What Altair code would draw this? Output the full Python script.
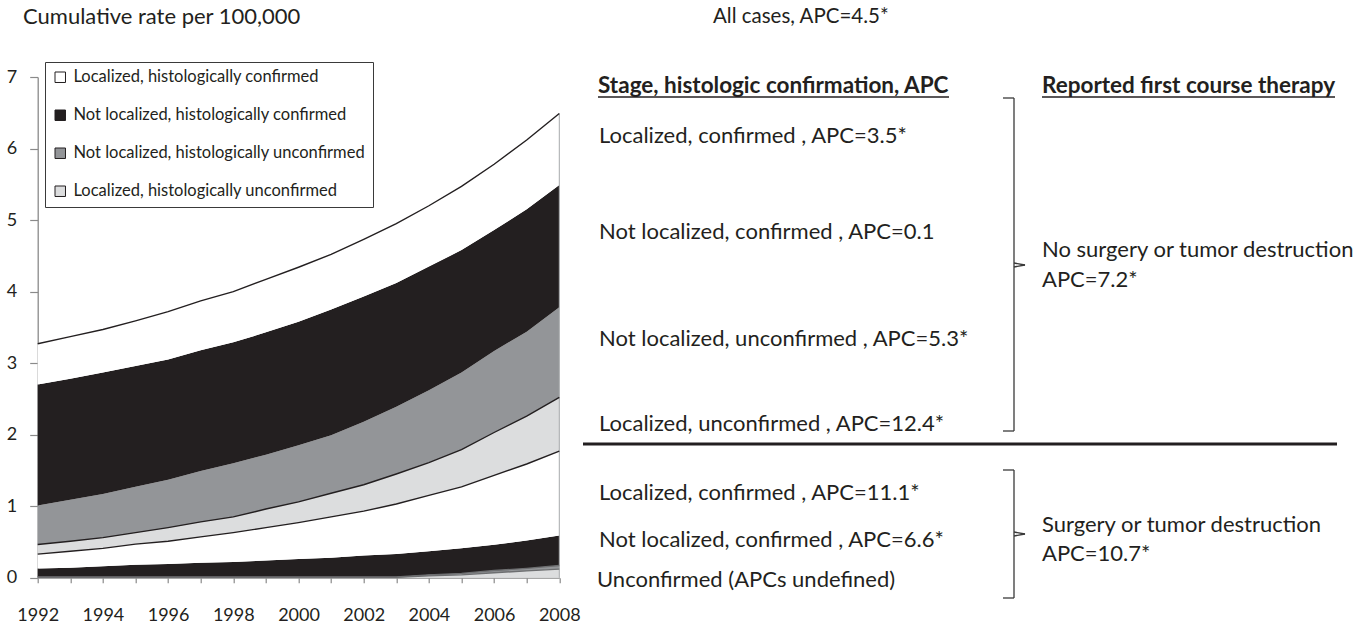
import altair as alt
import pandas as pd

# ---------------------------------------------------------------- data
years = list(range(1992, 2009))

# Upper edge of each stacked band, cumulative rate per 100,000.
# Bands run bottom -> top: surgery group first, then the no-surgery group.
surg_loc_unconf = [0.005, 0.005, 0.005, 0.005, 0.005, 0.005, 0.005, 0.005, 0.005,
                   0.005, 0.005, 0.005, 0.025, 0.04, 0.07, 0.095, 0.12]
surg_nonloc_unconf = [0.01, 0.01, 0.01, 0.01, 0.01, 0.01, 0.01, 0.01, 0.01,
                      0.01, 0.01, 0.01, 0.04, 0.06, 0.10, 0.13, 0.17]
surg_nonloc_conf = [0.13, 0.14, 0.16, 0.18, 0.19, 0.21, 0.22, 0.24, 0.26,
                    0.28, 0.31, 0.33, 0.37, 0.41, 0.46, 0.52, 0.59]
surg_loc_conf = [0.33, 0.37, 0.41, 0.47, 0.51, 0.57, 0.63, 0.70, 0.77,
                 0.85, 0.93, 1.03, 1.15, 1.27, 1.43, 1.59, 1.77]
nosurg_loc_unconf = [0.465, 0.51, 0.56, 0.63, 0.70, 0.78, 0.85, 0.96, 1.06,
                     1.18, 1.30, 1.45, 1.61, 1.79, 2.03, 2.26, 2.52]
nosurg_nonloc_unconf = [1.01, 1.09, 1.17, 1.27, 1.37, 1.49, 1.60, 1.72, 1.85,
                        1.99, 2.18, 2.39, 2.62, 2.87, 3.17, 3.44, 3.78]
nosurg_nonloc_conf = [2.70, 2.78, 2.87, 2.96, 3.05, 3.18, 3.29, 3.43, 3.58,
                      3.75, 3.93, 4.12, 4.35, 4.58, 4.86, 5.15, 5.49]
nosurg_loc_conf = [3.27, 3.37, 3.47, 3.59, 3.72, 3.87, 4.00, 4.17, 4.34,
                   4.52, 4.73, 4.95, 5.20, 5.47, 5.78, 6.12, 6.49]

categories = [
    "Localized, histologically confirmed",
    "Not localized, histologically confirmed",
    "Not localized, histologically unconfirmed",
    "Localized, histologically unconfirmed",
]
category_colors = ["#ffffff", "#231f20", "#939598", "#dcddde"]

x_ticks = years
y_ticks = [0, 1, 2, 3, 4, 5, 6, 7]

# ---------------------------------------------------------------- tables
zeros = [0.0] * len(years)
bands = [
    ("b1", categories[3], zeros, surg_loc_unconf),
    ("b2", categories[2], surg_loc_unconf, surg_nonloc_unconf),
    ("b3", categories[1], surg_nonloc_unconf, surg_nonloc_conf),
    ("b4", categories[0], surg_nonloc_conf, surg_loc_conf),
    ("b5", categories[3], surg_loc_conf, nosurg_loc_unconf),
    ("b6", categories[2], nosurg_loc_unconf, nosurg_nonloc_unconf),
    ("b7", categories[1], nosurg_nonloc_unconf, nosurg_nonloc_conf),
    ("b8", categories[0], nosurg_nonloc_conf, nosurg_loc_conf),
]
rows = []
for band, cat, lo, hi in bands:
    for yr, a, b in zip(years, lo, hi):
        rows.append({"year": yr, "lo": a, "hi": b, "category": cat, "band": band})
area_df = pd.DataFrame(rows)

# outlined band edges (dark edge, grey edge for the thin surgery bands)
edges = [
    ("e1", surg_loc_unconf, "grey"),
    ("e2", surg_nonloc_unconf, "grey"),
    ("e3", surg_loc_conf, "dark"),
    ("e4", nosurg_loc_unconf, "dark"),
    ("e5", nosurg_loc_conf, "dark"),
]
edge_rows = []
for name, vals, tone in edges:
    for yr, v in zip(years, vals):
        edge_rows.append({"year": yr, "hi": v, "edge": name, "tone": tone})
edge_df = pd.DataFrame(edge_rows)

# closing edge of the stack at the last year
end_df = pd.DataFrame({"year": [years[-1]], "hi": [nosurg_loc_conf[-1]], "lo": [0.0]})

# ---------------------------------------------------------------- layout
FONT = "Lato"
INK = "#231f20"
AXIS_GREY = "#8a8a8a"
X0, Y0 = 37.7, 77.0          # plot origin on the page
PLOT_W = 521.6               # width of the year axis
PLOT_H = 500.7
TOTAL_W, TOTAL_H = 1372, 624
NOTE_SIZE = 22

x_enc = alt.X(
    "year:Q",
    scale=alt.Scale(domain=[1992, 2008], range=[0, PLOT_W], nice=False, zero=False),
    axis=alt.Axis(
        values=x_ticks, title=None, grid=False,
        labelExpr="datum.value % 2 == 0 ? format(datum.value, 'd') : ''",
        labelOverlap=False, labelFlush=False,
        tickSize=5, labelPadding=24,
        domainColor=AXIS_GREY, tickColor=AXIS_GREY, domainWidth=1.3, tickWidth=1.2,
        labelFont=FONT, labelFontSize=18, labelColor=INK,
    ),
)
y_enc = alt.Y(
    "hi:Q",
    scale=alt.Scale(domain=[0, 7], nice=False),
    axis=alt.Axis(
        values=y_ticks, format="d", title=None, grid=False,
        tickSize=8, labelPadding=13,
        domainColor=AXIS_GREY, tickColor=AXIS_GREY, domainWidth=1.3, tickWidth=1.2,
        labelFont=FONT, labelFontSize=18, labelColor=INK,
    ),
)

areas = alt.Chart(area_df).mark_area(interpolate="linear", opacity=1, strokeWidth=0).encode(
    x=x_enc,
    y=y_enc,
    y2="lo:Q",
    fill=alt.Fill(
        "category:N",
        scale=alt.Scale(domain=categories, range=category_colors),
        legend=alt.Legend(
            title=None, orient="none", legendX=45 - X0, legendY=62 - Y0,
            fillColor="white", strokeColor="#3a3a3a", padding=7,
            symbolType="square", symbolSize=110, symbolStrokeColor=INK,
            symbolStrokeWidth=1, symbolOpacity=1,
            labelFont=FONT, labelFontSize=16.5, labelColor=INK,
            labelOffset=5, rowPadding=21, labelLimit=500,
        ),
    ),
    detail="band:N",
)

end_edge = alt.Chart(end_df).mark_rule(color="#a7a9ac", strokeWidth=1).encode(
    x="year:Q", y="hi:Q", y2="lo:Q",
)

edge_lines = alt.Chart(edge_df).mark_line(interpolate="linear", strokeWidth=1.4).encode(
    x="year:Q",
    y="hi:Q",
    detail="edge:N",
    color=alt.Color("tone:N", scale=alt.Scale(domain=["dark", "grey"], range=[INK, "#6d6e70"]),
                    legend=None),
)

one = pd.DataFrame({"k": [0]})


def text(s, x, y, size=NOTE_SIZE, weight="normal"):
    return alt.Chart(one).mark_text(
        text=s, align="left", baseline="middle", font=FONT, fontSize=size,
        fontWeight=weight, color=INK,
    ).encode(x=alt.value(x - X0), y=alt.value(y - Y0))


def rule(x1, y1, x2, y2, width=1.3, color="#3a3a3a"):
    return alt.Chart(one).mark_rule(color=color, strokeWidth=width).encode(
        x=alt.value(x1 - X0), x2=alt.value(x2 - X0),
        y=alt.value(y1 - Y0), y2=alt.value(y2 - Y0),
    )


def bracket(top, bottom, mid):
    xv, xl, xn = 1014, 1003, 1025
    return [
        rule(xl, top, xv, top),
        rule(xv, top, xv, bottom),
        rule(xl, bottom, xv, bottom),
        rule(xv, mid - 2, xn, mid),
        rule(xn, mid, xv, mid + 2),
    ]


notes = [
    text("Cumulative rate per 100,000", 23, 17, 22),
    text("All cases, APC=4.5*", 713, 17, 20.5),
    text("Stage, histologic confirmation, APC", 598, 86, 22.5, "bold"),
    rule(598, 97, 949, 97, 1.6, INK),
    text("Reported first course therapy", 1042, 86, 22.5, "bold"),
    rule(1042, 97, 1335, 97, 1.6, INK),
    text("Localized, confirmed , APC=3.5*", 599, 136),
    text("Not localized, confirmed , APC=0.1", 599, 232),
    text("Not localized, unconfirmed , APC=5.3*", 599, 339),
    text("Localized, unconfirmed , APC=12.4*", 599, 424),
    text("No surgery or tumor destruction", 1042, 250),
    text("APC=7.2*", 1042, 280),
    rule(583, 444, 1337, 444, 3, INK),
    text("Localized, confirmed , APC=11.1*", 599, 493),
    text("Not localized, confirmed , APC=6.6*", 599, 540),
    text("Unconfirmed (APCs undefined)", 597, 580),
    text("Surgery or tumor destruction", 1042, 525),
    text("APC=10.7*", 1042, 554),
]
notes += bracket(98, 431, 265)
notes += bracket(470, 598, 534)

chart = alt.layer(areas, end_edge, edge_lines, *notes).resolve_scale(color="independent").properties(
    width=TOTAL_W - X0,
    height=PLOT_H,
    autosize=alt.AutoSizeParams(type="none"),
    padding={"left": X0, "top": Y0, "right": 0, "bottom": TOTAL_H - Y0 - PLOT_H},
    background="white",
).configure_view(stroke=None)

chart.save("out.html", embed_options={"renderer": "svg", "actions": False})
